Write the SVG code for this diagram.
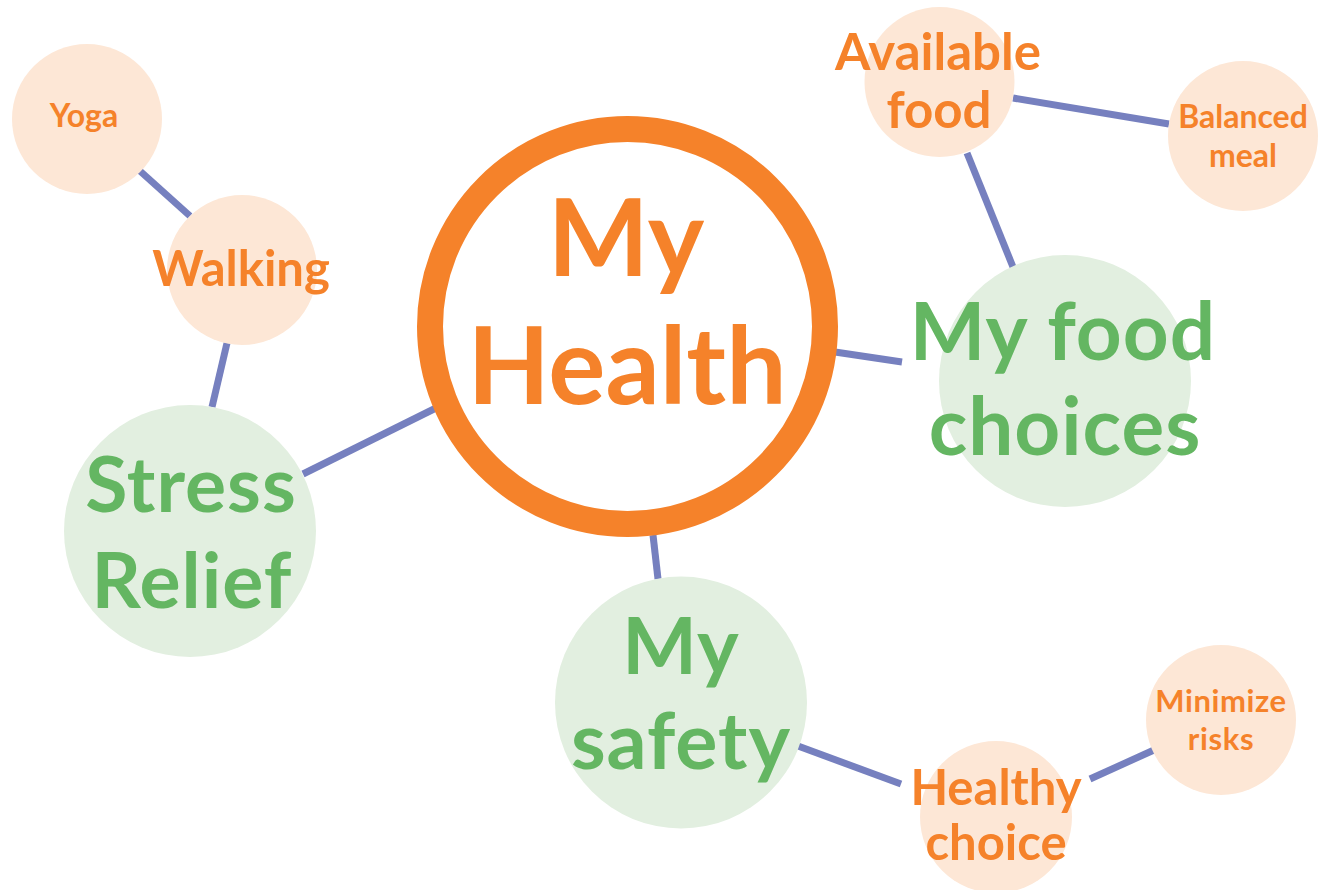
<svg xmlns="http://www.w3.org/2000/svg" width="1320" height="890" viewBox="0 0 1320 890">
  <style>
    text { font-family: Lato, "Open Sans", "DejaVu Sans", sans-serif; font-weight: 700; text-anchor: middle; }
    .link { stroke: #7680BF; stroke-width: 7; fill: none; }
    .hub { fill: #FFFFFF; stroke: #F5822A; stroke-width: 26; }
    .topic { fill: #E2EFE0; }
    .leaf { fill: #FDE7D6; }
    .t-hub { fill: #F5822A; font-size: 107px; }
    .t-topic { fill: #64B662; letter-spacing: 1px; }
    .t-leaf { fill: #F5822A; }
  </style>

  <g id="connectors">
    <line class="link" x1="140" y1="171" x2="190" y2="216"/>
    <line class="link" x1="227" y1="343" x2="212" y2="407"/>
    <line class="link" x1="303" y1="474" x2="436" y2="408"/>
    <line class="link" x1="835" y1="352" x2="902" y2="362"/>
    <line class="link" x1="1013" y1="98" x2="1169" y2="124"/>
    <line class="link" x1="967" y1="153" x2="1013" y2="267"/>
    <line class="link" x1="653" y1="535" x2="658" y2="579"/>
    <line class="link" x1="798" y1="746" x2="901" y2="784"/>
    <line class="link" x1="1090" y1="779" x2="1154" y2="750"/>
  </g>

  <g id="node-yoga">
    <circle class="leaf" cx="87" cy="119" r="75"/>
    <text class="t-leaf" x="84" y="127" font-size="32">Yoga</text>
  </g>

  <g id="node-walking">
    <circle class="leaf" cx="242" cy="270" r="75"/>
    <text class="t-leaf" x="241" y="286" font-size="49">Walking</text>
  </g>

  <g id="node-stress-relief">
    <circle class="topic" cx="190" cy="531" r="126"/>
    <text class="t-topic" font-size="77"><tspan x="191" y="512">Stress</tspan><tspan x="192" y="608">Relief</tspan></text>
  </g>

  <g id="node-my-health">
    <circle class="hub" cx="627.5" cy="326.5" r="197.5"/>
    <text class="t-hub"><tspan x="626" y="276">My</tspan><tspan x="627" y="404">Health</tspan></text>
  </g>

  <g id="node-food-choices">
    <circle class="topic" cx="1065" cy="381" r="126"/>
    <text class="t-topic" font-size="80"><tspan x="1063" y="360">My food</tspan><tspan x="1065" y="455">choices</tspan></text>
  </g>

  <g id="node-available-food">
    <circle class="leaf" cx="939.5" cy="82" r="75"/>
    <text class="t-leaf" font-size="51"><tspan x="938" y="70">Available</tspan><tspan x="939" y="128">food</tspan></text>
  </g>

  <g id="node-balanced-meal">
    <circle class="leaf" cx="1243" cy="136" r="75"/>
    <text class="t-leaf" font-size="32"><tspan x="1243" y="128">Balanced</tspan><tspan x="1243" y="167">meal</tspan></text>
  </g>

  <g id="node-my-safety">
    <circle class="topic" cx="681" cy="702.5" r="126"/>
    <text class="t-topic" font-size="79"><tspan x="681" y="674">My</tspan><tspan x="681" y="769">safety</tspan></text>
  </g>

  <g id="node-healthy-choice">
    <circle class="leaf" cx="996" cy="817" r="76"/>
    <text class="t-leaf" font-size="49"><tspan x="996" y="805">Healthy</tspan><tspan x="996" y="860">choice</tspan></text>
  </g>

  <g id="node-minimize-risks">
    <circle class="leaf" cx="1221" cy="720" r="75"/>
    <text class="t-leaf" font-size="31" letter-spacing="0.6"><tspan x="1221" y="712">Minimize</tspan><tspan x="1221" y="750">risks</tspan></text>
  </g>
</svg>
